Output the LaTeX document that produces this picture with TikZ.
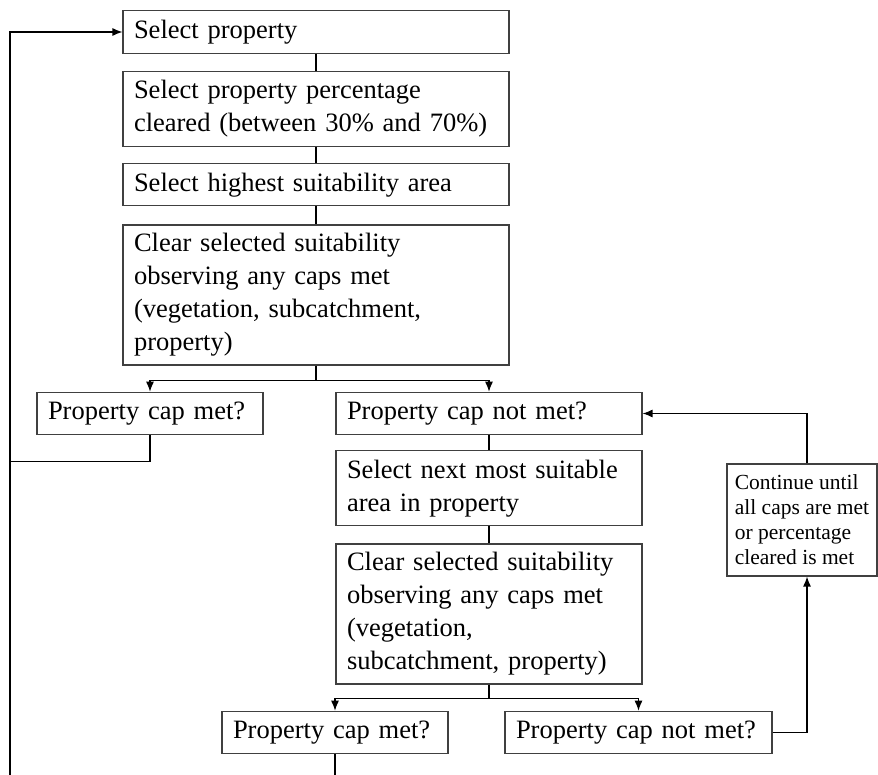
\documentclass[tikz,border=0pt]{standalone}
\usepackage{fontspec}
\setmainfont{Liberation Serif}
\usetikzlibrary{arrows.meta,positioning}

\tikzset{
  box/.style={draw=black!75, line width=1.1pt, align=left, inner xsep=11pt,
    font=\fontsize{26.5}{33}\selectfont},
  one/.style={box, minimum height=42.5pt},
  two/.style={box, minimum height=75pt},
  four/.style={box, minimum height=140pt},
  note/.style={draw=black!75, line width=1.1pt, align=left, inner xsep=4pt,
    minimum width=150pt, minimum height=112pt, font=\fontsize{21.5}{25}\selectfont},
  link/.style={line width=1.2pt}
}

\begin{document}
\begin{tikzpicture}[x=1pt, y=-1pt, >={Latex[length=10pt,width=8pt]}, node distance=17pt]
	\useasboundingbox (0,0) rectangle (878,775);
	% main column
	\node[one, text width=364pt] (sel) at (316,32) {Select property};
	\node[two, text width=364pt, below=of sel] (pct) {Select property percentage\\cleared (between 30\% and 70\%)};
	\node[one, text width=364pt, below=16pt of pct] (high) {Select highest suitability area};
	\node[four, text width=364pt, below=18pt of high] (clr) {Clear selected suitability\\observing any caps met\\(vegetation, subcatchment,\\property)};
	% first branch
	\node[one, text width=204pt] (met) at (150,413.5) {Property cap met?};
	\node[one, text width=284pt] (notmet) at (489,413.5) {Property cap not met?};
	\node[two, text width=284pt, below=15pt of notmet] (next) {Select next most suitable\\area in property};
	\node[four, text width=284pt, below=of next] (clrb) {Clear selected suitability\\observing any caps met\\(vegetation,\\subcatchment, property)};
	% second branch
	\node[one, text width=204pt] (metb) at (335,732.5) {Property cap met?};
	\node[one, text width=245pt] (notmetb) at (638.5,732.5) {Property cap not met?};
	\node[note] (cont) at (802,520) {Continue until\\all caps are met\\or percentage\\cleared is met};
	\coordinate (rail) at (10,775);

	\draw[link] (sel.south) -- (pct.north) (pct.south) -- (high.north) (high.south) -- (clr.north);
	\draw[link,->] (clr.south) -- ++(0,15) -| (met.north);
	\draw[link,->] (clr.south) -- ++(0,15) -| (notmet.north);
	\draw[link] (notmet.south) -- (next.north) (next.south) -- (clrb.north);
	\draw[link,->] (clrb.south) -- ++(0,14) -| (metb.north);
	\draw[link,->] (clrb.south) -- ++(0,14) -| (notmetb.north);
	\draw[link,->] (notmetb.east) -| ([xshift=5pt]cont.south);
	\draw[link,->] ([xshift=5pt]cont.north) |- (notmet.east);
	% back to the start
	\draw[link] (met.south) -- ++(0,26) -| (rail);
	\draw[link,->] (rail) |- (sel.west);
	\draw[link] (metb.south) -- (metb.south |- rail);
\end{tikzpicture}
\end{document}
